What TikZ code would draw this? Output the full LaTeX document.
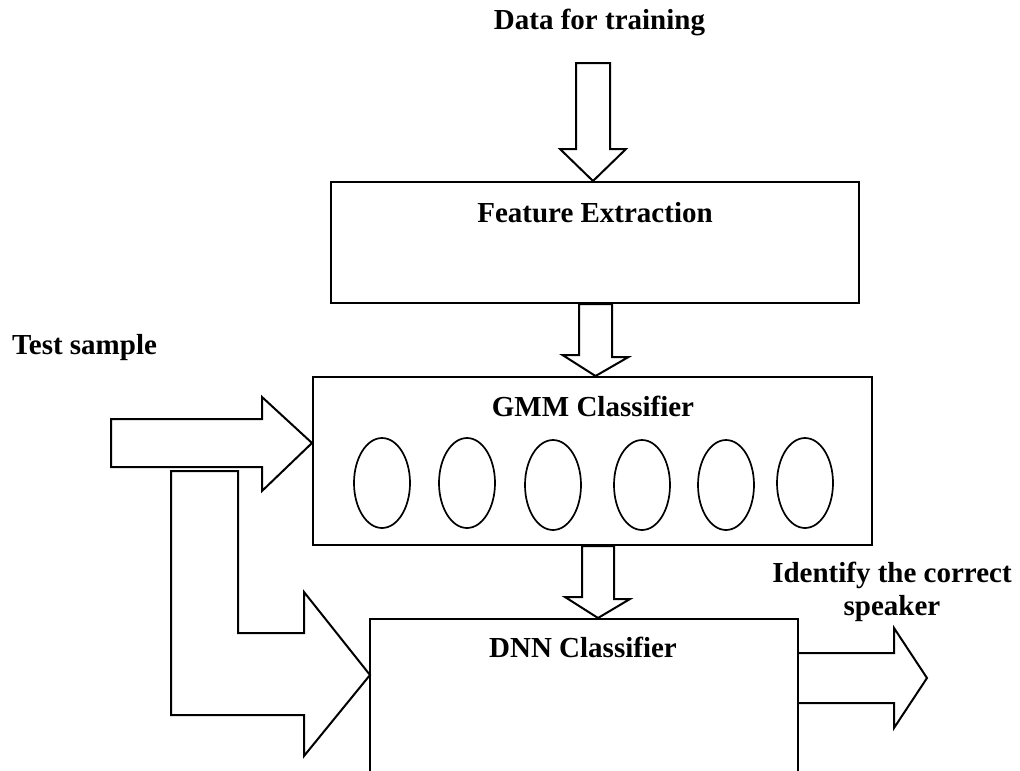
\documentclass[tikz,border=0pt]{standalone}
\usepackage{fontspec}
\setmainfont{Liberation Serif}
\usetikzlibrary{shapes.geometric,calc}
\begin{document}
\begin{tikzpicture}[x=1pt,y=-1pt,
  box/.style={draw,line width=2pt,inner sep=0pt,rectangle},
  blk/.style={draw,line width=2pt,line join=miter,fill=white},
  ell/.style={draw,line width=1.7pt,ellipse,inner sep=0pt,minimum width=56pt,minimum height=90pt},
  lbl/.style={font=\fontsize{29}{33}\selectfont\bfseries,inner sep=0pt}]
\useasboundingbox (0,0) rectangle (1020,771);
\clip (0,0) rectangle (1020,771);
% boxes
\node[box,minimum width=528pt,minimum height=121pt] (fe) at (595,242.5) {};
\node[box,minimum width=559pt,minimum height=168pt] (gmm) at (592.5,461) {};
\node[box,minimum width=428pt,minimum height=220pt] (dnn) at (584,729) {};
% ellipses
\node[ell] (e1) at (382,483) {};
\node[ell] (e2) at (467,483) {};
\node[ell] (e3) at (553,485) {};
\node[ell] (e4) at (642,485) {};
\node[ell] (e5) at (726,485) {};
\node[ell] (e6) at (805,483) {};
% labels
\node[lbl,anchor=base] (tdata) at (599.5,29) {Data for training};
\node[lbl,anchor=base] (tfe) at (595,222) {Feature Extraction};
\node[lbl,anchor=base] (tgmm) at (593,416) {GMM Classifier};
\node[lbl,anchor=base] (tdnn) at (583,657) {DNN Classifier};
\node[lbl,anchor=base west] (ttest) at (12,354) {Test sample};
\node[lbl,align=center,anchor=north] (tid) at (892,562) {Identify the correct\\speaker};
% block arrows
\coordinate (a1) at (fe.north -| 593,0);
\draw[blk] (a1) -- ++(-33,-32) -- ++(16,0) -- ++(0,-86) -- ++(34,0) -- ++(0,86) -- ++(16,0) -- cycle;
\coordinate (a2) at (gmm.north -| 595.5,0);
\draw[blk] (a2) -- ++(-33,-21) -- ++(16.5,0) -- (fe.south -| 579,0) -- (fe.south -| 612,0) -- ++(0,53) -- ++(16.5,0) -- cycle;
\coordinate (a3) at (dnn.north -| 598,0);
\draw[blk] (a3) -- ++(-33,-21) -- ++(17,0) -- (gmm.south -| 582,0) -- (gmm.south -| 614,0) -- ++(0,53) -- ++(16,0) -- cycle;
\coordinate (a4) at (gmm.west |- 0,443);
\draw[blk] (a4) -- ++(-50,-46) -- ++(0,22) -- ++(-151,0) -- ++(0,48) -- ++(151,0) -- ++(0,24) -- cycle;
\coordinate (a5) at ($(dnn.north west)+(1,57)$);
\draw[blk] (a5) -- ++(-66,-83) -- ++(0,41) -- ++(-66,0) -- ++(0,-162) -- ++(-67,0) -- ++(0,244) -- ++(133,0) -- ++(0,41) -- cycle;
\coordinate (a6) at ($(dnn.north east)+(0,35)$);
\draw[blk] (a6) -- ++(95,0) -- ++(0,-25) -- ++(33,50) -- ++(-33,50) -- ++(0,-25) -- ++(-95,0);
\end{tikzpicture}
\end{document}
